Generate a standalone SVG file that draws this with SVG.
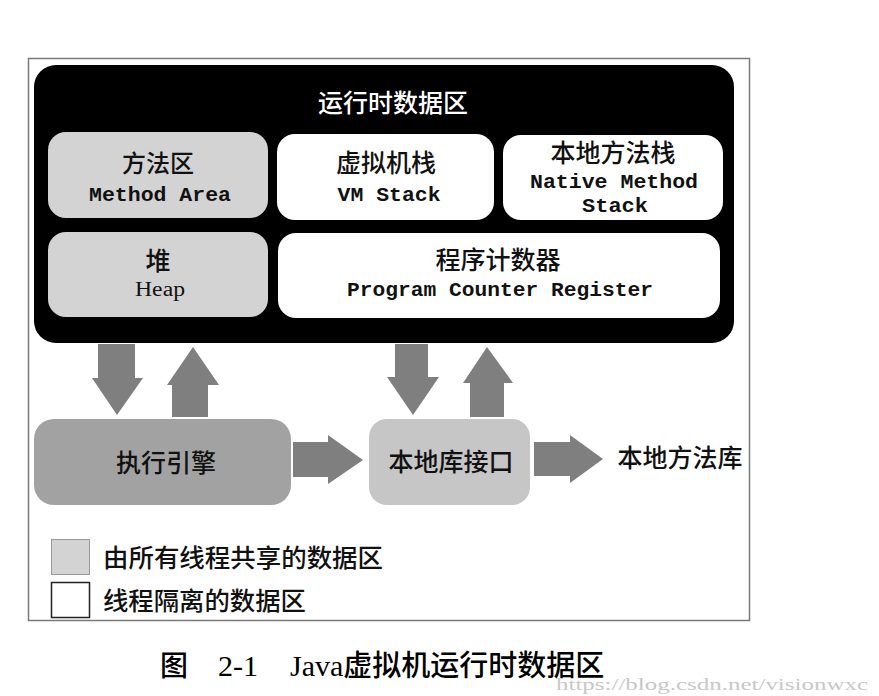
<svg xmlns="http://www.w3.org/2000/svg" width="879" height="696" viewBox="0 0 879 696">
<defs>
<style>
.cjk{font-family:"Noto Sans CJK SC","Noto Sans",sans-serif;font-weight:500;text-anchor:middle}
.mono{font-family:"Liberation Mono","DejaVu Sans Mono",monospace;font-weight:bold;text-anchor:middle}
.box{stroke:none}
.shared{fill:#d3d3d3}
.thread{fill:#ffffff}
.arrow{fill:#7f7f7f}
</style>
</defs>
<rect x="0" y="0" width="879" height="696" fill="#ffffff"/>
<rect x="28.5" y="58.5" width="721" height="562" fill="#ffffff" stroke="#7a7a7a" stroke-width="1.5"/>

<g id="runtime-data-area">
<rect x="34" y="65" width="700" height="278" rx="22" fill="#000000"/>
<text class="cjk" x="393" y="112" font-size="25" fill="#ffffff" font-weight="400">运行时数据区</text>
</g>

<g id="method-area">
<rect class="box shared" x="48" y="132" width="220" height="86" rx="18"/>
<text class="cjk" x="158" y="172" font-size="24" fill="#111">方法区</text>
<text class="mono" x="160" y="201" font-size="20" fill="#111" textLength="142" lengthAdjust="spacingAndGlyphs">Method Area</text>
</g>

<g id="vm-stack">
<rect class="box thread" x="277" y="134" width="217" height="86" rx="18"/>
<text class="cjk" x="386" y="172" font-size="25" fill="#111">虚拟机栈</text>
<text class="mono" x="389" y="201" font-size="20" fill="#111" textLength="103" lengthAdjust="spacingAndGlyphs">VM Stack</text>
</g>

<g id="native-method-stack">
<rect class="box thread" x="503" y="135" width="220" height="85" rx="18"/>
<text class="cjk" x="613" y="162" font-size="25" fill="#111">本地方法栈</text>
<text class="mono" x="614" y="188" font-size="20" fill="#111" textLength="168" lengthAdjust="spacingAndGlyphs">Native Method</text>
<text class="mono" x="615" y="212" font-size="20" fill="#111" textLength="66" lengthAdjust="spacingAndGlyphs">Stack</text>
</g>

<g id="heap">
<rect class="box shared" x="48" y="232" width="220" height="85" rx="18"/>
<text class="cjk" x="158" y="270" font-size="25" fill="#111">堆</text>
<text x="160" y="296" font-size="20" fill="#111" font-family="'Liberation Serif',serif" text-anchor="middle" textLength="50" lengthAdjust="spacingAndGlyphs">Heap</text>
</g>

<g id="program-counter-register">
<rect class="box thread" x="278" y="233" width="442" height="85" rx="18"/>
<text class="cjk" x="498" y="269" font-size="25" fill="#111">程序计数器</text>
<text class="mono" x="500" y="296" font-size="20" fill="#111" textLength="306" lengthAdjust="spacingAndGlyphs">Program Counter Register</text>
</g>

<g id="execution-engine">
<rect x="34" y="419" width="257" height="86" rx="20" fill="#a2a2a2"/>
<text class="cjk" x="166" y="472" font-size="25" fill="#111">执行引擎</text>
</g>

<g id="native-interface">
<rect x="369" y="419" width="161" height="86" rx="18" fill="#c6c6c6"/>
<text class="cjk" x="451" y="471" font-size="25" fill="#111">本地库接口</text>
</g>

<g id="native-library">
<text class="cjk" x="680" y="467" font-size="25" fill="#111">本地方法库</text>
</g>

<g id="connectors">
<polygon class="arrow" points="98,344 135,344 135,378 143,378 117,415 92,378 98,378"/>
<polygon class="arrow" points="172,417 208,417 208,385 219,385 193,347 167,385 172,385"/>
<polygon class="arrow" points="395,344 428,344 428,377 439,377 413,415 387,377 395,377"/>
<polygon class="arrow" points="470,417 504,417 504,383 513,383 487,347 463,383 470,383"/>
<polygon class="arrow" points="293,442 328,442 328,435 363,460 328,484 328,477 293,477"/>
<polygon class="arrow" points="534,442 570,442 570,435 603,459 570,483 570,476 534,476"/>
</g>

<g id="legend">
<rect x="51.5" y="539.5" width="38" height="35" fill="#d3d3d3" stroke="#9a9a9a" stroke-width="1"/>
<text x="103" y="567" font-size="25" fill="#111" font-weight="500" font-family="'Noto Sans CJK SC',sans-serif" textLength="280" lengthAdjust="spacingAndGlyphs">由所有线程共享的数据区</text>
<rect x="51.5" y="582.5" width="38" height="35" fill="#ffffff" stroke="#222" stroke-width="1.5"/>
<text x="103" y="610" font-size="25" fill="#111" font-weight="500" font-family="'Noto Sans CJK SC',sans-serif" textLength="203" lengthAdjust="spacingAndGlyphs">线程隔离的数据区</text>
</g>

<g id="caption">
<text x="160" y="676" font-size="28" fill="#000" font-weight="500" font-family="'Noto Sans CJK SC',sans-serif">图</text>
<text x="218" y="676" font-size="30" fill="#000" font-family="'Liberation Serif',serif">2-1</text>
<text x="290" y="676" font-size="30" fill="#000" font-family="'Liberation Serif','Noto Sans CJK SC',serif">Java<tspan font-family="'Noto Sans CJK SC',sans-serif" font-weight="500" font-size="29">虚拟机运行时数据区</tspan></text>
<text x="556" y="690" font-size="17" fill="#c8c8c8" font-family="'Liberation Serif',serif" textLength="312" lengthAdjust="spacingAndGlyphs">https://blog.csdn.net/visionwxc</text>
</g>
</svg>
